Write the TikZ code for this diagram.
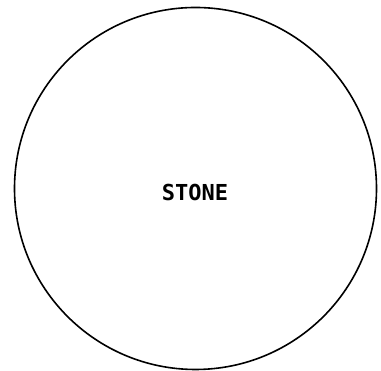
\documentclass[tikz,border=0pt]{standalone}
\usepackage{fontspec}
\newfontfamily\labelfont{DejaVu Sans Mono}
\tikzset{stoneshape/.style={circle, draw=black, line width=1.6pt, minimum size=362pt, inner sep=0pt},
labeltext/.style={font=\labelfont\bfseries\fontsize{22}{22}\selectfont, inner sep=0pt, anchor=center}}
\begin{document}
\begin{tikzpicture}[x=1pt,y=1pt]
\useasboundingbox (0,0) rectangle (381,371);
\node[stoneshape] (stone) at (195.5,182.5) {};
\node[labeltext] (lbl) at (195,179) {STONE};
\end{tikzpicture}
\end{document}
